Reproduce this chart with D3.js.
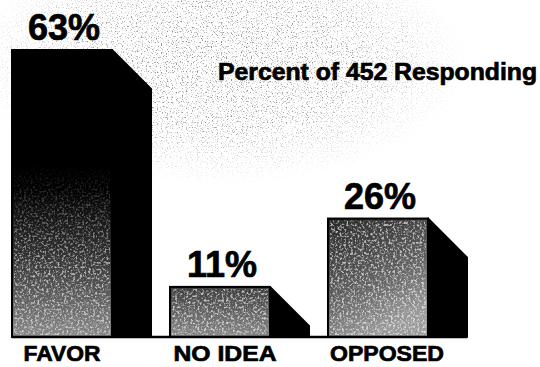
<!DOCTYPE html>
<html lang="en">
<head>
    <meta charset="UTF-8">
    <title>Percent of 452 Responding</title>
    <style>
        body { margin: 0; background: #fff; }
        svg { display: block; }
        text { font-family: "Liberation Sans", Arial, sans-serif; font-weight: bold; fill: #000; stroke: #000; stroke-width: 0.7; }
    </style>
</head>
<body>
    <svg width="540" height="367"></svg>
    <script src="https://d3js.org/d3.v7.min.js"></script>
    <script>
    const categories = ["FAVOR", "NO IDEA", "OPPOSED"];
    const values = [63, 11, 26];
    const valueLabels = ["63%", "11%", "26%"];
    const subtitle = "Percent of 452 Responding";

    const svg = d3.select("svg");
    const base = 337, depth = 39;

    let x = d3.scaleBand().domain(categories).range([12, 428]).paddingInner(0.367).paddingOuter(0);
    let y = d3.scaleLinear().domain([0, 63]).range([base, 50]);

    let defs = svg.append("defs");

    // front face shading, one per bar
    let shades = [
        [["0%", "#000"], ["48%", "#000"], ["72%", "#333"], ["100%", "#8a8a8a"]],
        [["0%", "#3c3c3c"], ["100%", "#8a8a8a"]],
        [["0%", "#262626"], ["60%", "#606060"], ["100%", "#9a9a9a"]]
    ];
    shades.forEach(function (stops, i) {
        let g = defs.append("linearGradient").attr("id", "shade" + i)
            .attr("x1", 0).attr("y1", 0).attr("x2", i === 2 ? 0.4 : 0).attr("y2", 1);
        stops.forEach(function (s) { g.append("stop").attr("offset", s[0]).attr("stop-color", s[1]); });
    });

    // speckle only shows where the bar is not solid black
    let fade = defs.append("linearGradient").attr("id", "speckFade").attr("x1", 0).attr("y1", 0).attr("x2", 0).attr("y2", 1);
    fade.append("stop").attr("offset", "40%").attr("stop-color", "#fff").attr("stop-opacity", 0);
    fade.append("stop").attr("offset", "75%").attr("stop-color", "#fff").attr("stop-opacity", 1);
    defs.append("mask").attr("id", "speckMask").attr("maskContentUnits", "objectBoundingBox")
        .append("rect").attr("width", 1).attr("height", 1).attr("fill", "url(#speckFade)");

    // speckle texture for front faces
    let sp = defs.append("filter").attr("id", "speck").attr("x", 0).attr("y", 0).attr("width", 1).attr("height", 1);
    sp.append("feTurbulence").attr("type", "fractalNoise").attr("baseFrequency", 0.45).attr("numOctaves", 2).attr("seed", 4).attr("result", "n");
    sp.append("feColorMatrix").attr("in", "n").attr("type", "matrix")
        .attr("values", "0 0 0 0 1  0 0 0 0 1  0 0 0 0 1  4 0 0 0 -1.9").attr("result", "dots");
    sp.append("feComposite").attr("in", "dots").attr("in2", "SourceAlpha").attr("operator", "in");

    // scanned grey cloud in the background
    let bg = defs.append("filter").attr("id", "cloud").attr("x", 0).attr("y", 0).attr("width", 1).attr("height", 1);
    bg.append("feTurbulence").attr("type", "fractalNoise").attr("baseFrequency", 0.8).attr("numOctaves", 1).attr("seed", 7).attr("result", "n");
    bg.append("feColorMatrix").attr("in", "n").attr("type", "matrix")
        .attr("values", "0 0 0 0 0.2  0 0 0 0 0.2  0 0 0 0 0.2  5 0 0 0 -2.75");
    let rg = defs.append("radialGradient").attr("id", "cloudFade")
        .attr("gradientUnits", "userSpaceOnUse").attr("cx", 220).attr("cy", 60).attr("r", 250)
        .attr("gradientTransform", "translate(220,60) scale(1,0.5) translate(-220,-60)");
    rg.append("stop").attr("offset", "0%").attr("stop-color", "#fff").attr("stop-opacity", 1);
    rg.append("stop").attr("offset", "55%").attr("stop-color", "#fff").attr("stop-opacity", 0.75);
    rg.append("stop").attr("offset", "100%").attr("stop-color", "#fff").attr("stop-opacity", 0);
    defs.append("mask").attr("id", "cloudMask")
        .append("rect").attr("width", 540).attr("height", 367).attr("fill", "url(#cloudFade)");

    svg.append("g").attr("mask", "url(#cloudMask)")
        .append("rect").attr("width", 540).attr("height", 200).attr("filter", "url(#cloud)");

    let bars = svg.append("g").selectAll("g").data(categories).join("g");

    // dark side face with bevelled top
    bars.append("path")
        .attr("d", function (d, i) {
            let x1 = x(d) + x.bandwidth(), t = y(values[i]);
            return "M" + x1 + "," + t + "L" + (x1 + depth) + "," + (t + depth) + "L" + (x1 + depth) + "," + base + "L" + x1 + "," + base + "Z";
        })
        .attr("fill", "#000").attr("stroke", "#000").attr("stroke-width", 2).attr("stroke-linejoin", "round");

    bars.append("rect")
        .attr("x", function (d) { return x(d); })
        .attr("y", function (d, i) { return y(values[i]); })
        .attr("width", x.bandwidth())
        .attr("height", function (d, i) { return base - y(values[i]); })
        .attr("fill", function (d, i) { return "url(#shade" + i + ")"; })
        .attr("stroke", "#000").attr("stroke-width", 2);

    bars.append("g")
        .attr("mask", function (d, i) { return i === 0 ? "url(#speckMask)" : null; })
        .append("rect")
        .attr("x", function (d) { return x(d) + 2; })
        .attr("y", function (d, i) { return y(values[i]) + 2; })
        .attr("width", x.bandwidth() - 4)
        .attr("height", function (d, i) { return base - y(values[i]) - 4; })
        .attr("fill", "#000")
        .attr("opacity", function (d, i) { return i === 0 ? 0.6 : 0.65; })
        .attr("filter", "url(#speck)");

    svg.append("line")
        .attr("x1", x(categories[0])).attr("x2", x(categories[2]) + x.bandwidth() + depth)
        .attr("y1", base).attr("y2", base)
        .attr("stroke", "#000").attr("stroke-width", 2.5);

    bars.append("text")
        .attr("x", function (d) { return x(d) + x.bandwidth() / 2 + 2; })
        .attr("y", function (d, i) { return y(values[i]) - 10; })
        .attr("text-anchor", "middle")
        .style("font-size", "36px")
        .text(function (d, i) { return valueLabels[i]; });

    let catWidths = [77, 103, 114];
    bars.append("text")
        .attr("x", function (d, i) { return x(d) + x.bandwidth() / 2 + [0, 5, 9][i]; })
        .attr("y", 361)
        .attr("text-anchor", "middle")
        .attr("textLength", function (d, i) { return catWidths[i]; })
        .attr("lengthAdjust", "spacingAndGlyphs")
        .style("font-size", "22px")
        .text(function (d) { return d; });

    svg.append("text")
        .attr("x", 218).attr("y", 80)
        .attr("textLength", 319).attr("lengthAdjust", "spacingAndGlyphs")
        .style("font-size", "23px")
        .text(subtitle);
    </script>
</body>
</html>
